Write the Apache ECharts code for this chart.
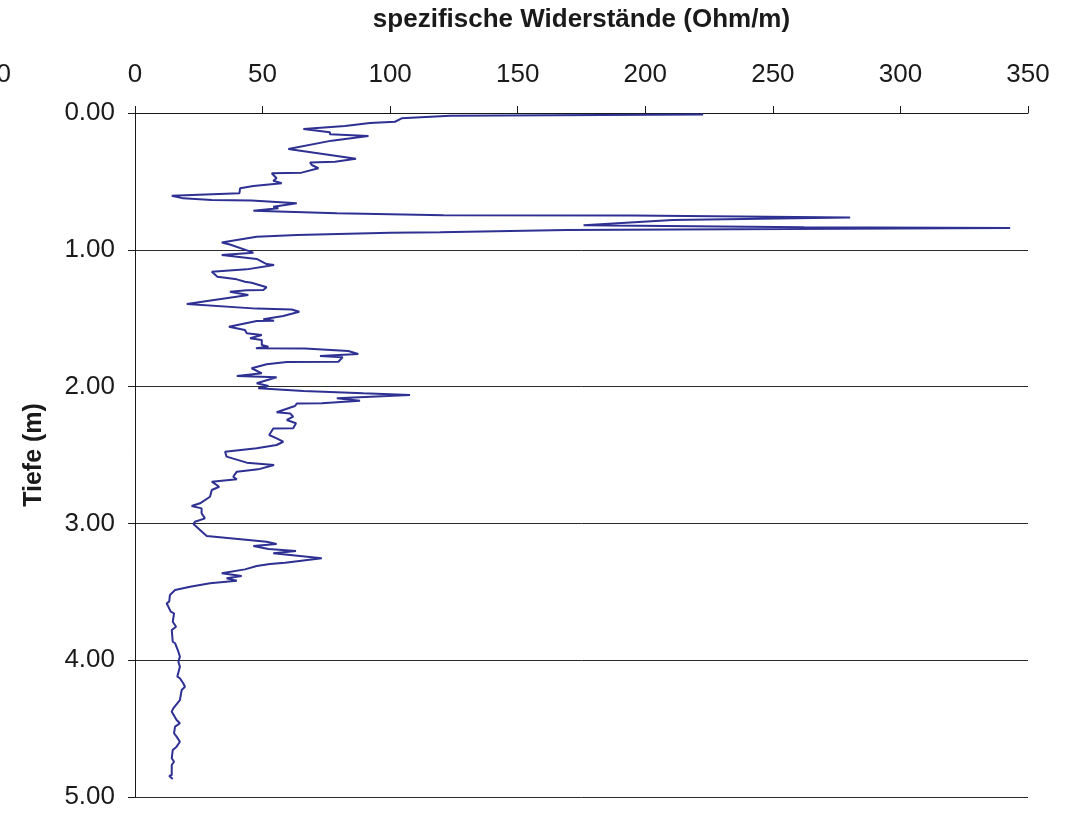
<!DOCTYPE html>
<html>
<head>
<meta charset="utf-8">
<script src="https://cdn.jsdelivr.net/npm/echarts@6/dist/echarts.min.js"></script>
<style>
html,body{margin:0;padding:0;background:#fff;}
#chart{width:1077px;height:817px;}
</style>
</head>
<body>
<div id="chart"></div>
<script>
// Resistivity values (Ohm/m) in drawing order
const resistivity = [
222.7,123.5,104.5,101.9,92.1,82.3,66.0,76.4,76.4,91.5,77.1,60.1,86.6,78.4,68.6,69.3,71.9,65.3,53.6,55.5,
54.2,57.5,46.4,41.2,40.9,14.4,18.9,30.1,45.7,63.4,54.2,56.2,46.4,79.1,120.9,194.8,280.3,210.7,175.8,262.3,
343.0,169.0,119.6,100.0,63.4,47.7,39.9,34.0,37.2,46.4,34.0,47.7,51.6,54.5,43.8,30.1,32.3,39.9,43.1,45.7,
51.6,50.3,43.8,37.2,44.4,20.3,47.7,61.4,64.4,58.1,50.3,54.5,47.7,36.8,43.1,43.8,49.7,45.1,49.7,49.7,
52.3,47.4,66.6,83.6,87.5,72.5,81.4,79.7,59.5,51.6,45.7,49.7,39.9,55.5,47.7,52.3,48.3,66.0,89.5,107.8,
79.1,88.2,73.2,63.4,62.7,55.5,60.8,62.0,59.5,63.1,62.0,54.2,52.6,55.5,58.1,55.5,47.7,35.3,35.9,43.8,
54.5,48.3,39.9,38.5,39.9,30.1,33.0,30.1,29.4,25.5,22.2,26.1,26.1,27.4,23.5,22.9,28.1,51.6,55.5,46.4,
52.3,63.1,54.2,73.2,58.8,52.9,47.7,43.1,34.0,41.8,35.9,39.9,
29.4,21.6,15.7,13.7,13.4,12.4,14.0,15.3,14.8,16.1,14.4,14.8,15.7,17.0,17.6,17.0,17.6,16.6,17.6,18.9,
19.6,18.3,17.6,15.0,14.4,16.3,17.6,15.7,15.3,16.3,17.6,16.3,14.8,14.4,15.3,14.4,14.4,13.4,14.8
];
// Depth (m) for each value
const depth = [
0.011,0.020,0.039,0.064,0.073,0.095,0.117,0.141,0.156,0.168,0.202,0.263,0.334,0.356,0.362,0.380,0.404,0.436,0.440,0.477,
0.495,0.514,0.534,0.550,0.587,0.605,0.624,0.636,0.640,0.660,0.685,0.697,0.714,0.733,0.748,0.750,0.764,0.782,0.821,0.836,
0.841,0.855,0.872,0.875,0.892,0.904,0.928,0.947,0.961,1.021,1.038,1.067,1.104,1.111,1.143,1.160,1.197,1.216,1.233,1.241,
1.274,1.294,1.296,1.306,1.330,1.396,1.430,1.436,1.453,1.484,1.508,1.518,1.520,1.562,1.586,1.610,1.623,1.647,1.659,1.696,
1.708,1.720,1.722,1.740,1.762,1.776,1.786,1.818,1.820,1.837,1.866,1.903,1.923,1.932,1.976,1.996,2.012,2.032,2.049,2.061,
2.086,2.103,2.122,2.124,2.142,2.187,2.196,2.220,2.244,2.268,2.305,2.306,2.354,2.378,2.403,2.427,2.451,2.476,2.512,2.556,
2.573,2.605,2.622,2.659,2.678,2.695,2.732,2.756,2.805,2.853,2.873,2.890,2.926,2.963,2.988,3.004,3.092,3.134,3.151,3.165,
3.187,3.202,3.219,3.255,3.287,3.297,3.311,3.336,3.365,3.385,3.401,3.419,
3.438,3.463,3.487,3.523,3.572,3.584,3.645,3.657,3.719,3.755,3.779,3.865,3.876,3.938,3.974,4.011,4.047,4.120,4.132,4.169,
4.194,4.218,4.291,4.352,4.376,4.437,4.461,4.486,4.534,4.559,4.596,4.632,4.656,4.717,4.742,4.766,4.839,4.846,4.868
];
const xTitle = 'spezifische Widerstände (Ohm/m)';
const yTitle = 'Tiefe (m)';

const points = resistivity.map((v, i) => [v, depth[i]]);
const FONT = '"Liberation Sans", Arial, sans-serif';

const chart = echarts.init(document.getElementById('chart'), null, {renderer: 'canvas'});
chart.setOption({
  backgroundColor: '#ffffff',
  animation: false,
  grid: {left: 135, right: 49, top: 113, bottom: 20, containLabel: false},
  xAxis: {
    type: 'value', position: 'top', min: 0, max: 350, interval: 50,
    name: xTitle, nameLocation: 'middle', nameGap: 80,
    nameTextStyle: {fontFamily: FONT, fontSize: 26, fontWeight: 'bold', color: '#1a1a1a'},
    axisLine: {show: true, onZero: false, lineStyle: {color: '#1a1a1a', width: 1}},
    axisTick: {show: true, inside: false, length: 7, lineStyle: {color: '#1a1a1a'}},
    axisLabel: {fontFamily: FONT, fontSize: 26, color: '#1a1a1a', margin: 25},
    splitLine: {show: false}
  },
  yAxis: {
    type: 'value', inverse: true, min: 0, max: 5, interval: 1,
    name: yTitle, nameLocation: 'middle', nameGap: 88, nameRotate: 90,
    nameTextStyle: {fontFamily: FONT, fontSize: 25, fontWeight: 'bold', color: '#1a1a1a'},
    axisLine: {show: true, onZero: false, lineStyle: {color: '#1a1a1a', width: 1}},
    axisTick: {show: true, inside: false, length: 7, lineStyle: {color: '#1a1a1a'}},
    axisLabel: {fontFamily: FONT, fontSize: 26, color: '#1a1a1a', margin: 20,
      formatter: v => v.toFixed(2)},
    splitLine: {show: true, lineStyle: {color: '#2a2a2a', width: 1}}
  },
  graphic: [{
    type: 'text', left: -18, top: 62,
    style: {text: '50', font: '26px ' + FONT, fill: '#1a1a1a', textAlign: 'left'}
  }],
  series: [{
    type: 'line', data: points, showSymbol: false, symbol: 'none',
    lineStyle: {color: '#2E3192', width: 2},
    itemStyle: {color: '#2E3192'}
  }]
});
</script>
</body>
</html>
